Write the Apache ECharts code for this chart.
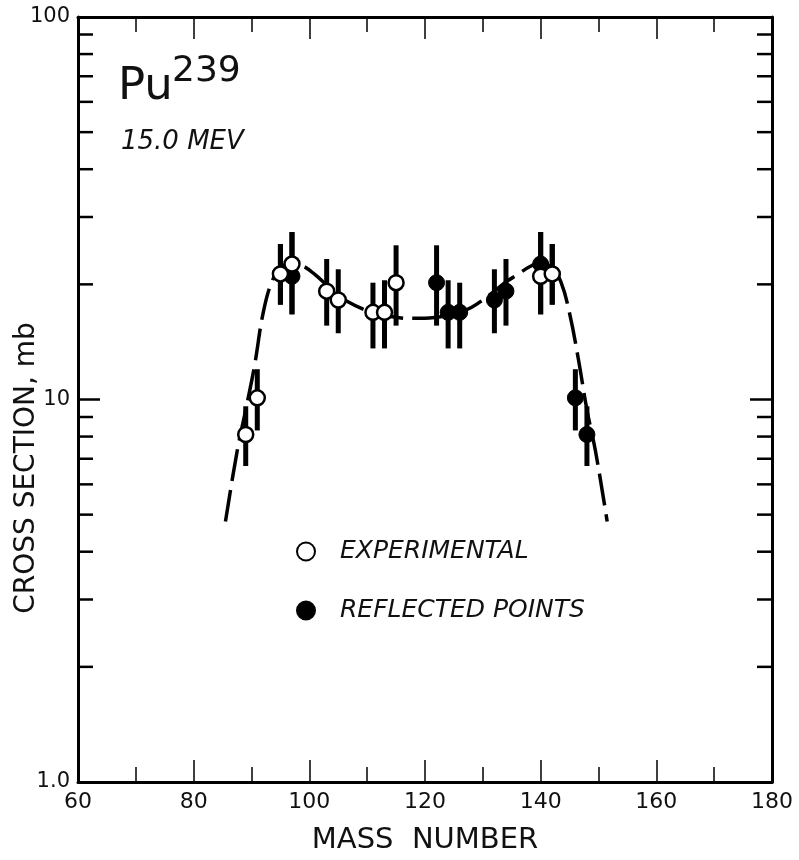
<!DOCTYPE html>
<html><head><meta charset="utf-8">
<script src="https://cdn.jsdelivr.net/npm/echarts@6/dist/echarts.min.js"></script>
<style>html,body{margin:0;padding:0;background:#fff}#c{width:799px;height:860px}</style>
</head><body><div id="c"></div>
<script>
// Experimental points (open circles)
const expMass  = [89, 91, 95, 97, 103, 105, 111, 113, 115, 140, 142];
const expValue = [8.1, 10.1, 21.3, 22.6, 19.2, 18.2, 16.9, 16.9, 20.2, 21.0, 21.3];
const expLow   = [6.7, 8.3, 17.7, 16.7, 15.6, 14.9, 13.6, 13.6, 15.6, 16.7, 17.7];
const expHigh  = [9.6, 12.0, 25.5, 27.4, 23.3, 21.9, 20.2, 20.5, 25.3, 27.4, 25.5];
// Reflected points (filled circles)
const refMass  = [148, 146, 142, 140, 134, 132, 126, 124, 122, 97, 95];
const refValue = [8.1, 10.1, 21.3, 22.6, 19.2, 18.2, 16.9, 16.9, 20.2, 21.0, 21.3];
const refLow   = [6.7, 8.3, 17.7, 16.7, 15.6, 14.9, 13.6, 13.6, 15.6, 16.7, 17.7];
const refHigh  = [9.6, 12.0, 25.5, 27.4, 23.3, 21.9, 20.2, 20.5, 25.3, 27.4, 25.5];
// Fitted curve
const curveMass  = [85.5, 87.5, 89, 90.5, 92, 93.5, 95, 97, 99, 101, 103, 105, 107, 109, 111, 113, 115, 117, 118.5,
                    120, 122, 124, 126, 128, 130, 132, 134, 136, 138, 140, 142, 143.5, 145, 146.5, 148, 149.5, 151.5];
const curveValue = [4.8, 7.3, 9.4, 12.2, 16.8, 20.3, 22.0, 22.8, 22.3, 21.2, 19.9, 18.7, 17.9, 17.3, 16.9, 16.6, 16.4, 16.3, 16.3,
                    16.3, 16.4, 16.6, 16.9, 17.4, 18.2, 19.2, 20.3, 21.2, 22.2, 22.8, 22.0, 20.3, 16.8, 12.8, 9.4, 7.3, 4.8];
// Axis ticks
const xTickValues = [60, 80, 100, 120, 140, 160, 180];
const yMinorTicks = [2, 3, 4, 5, 6, 7, 8, 9, 20, 30, 40, 50, 60, 70, 80, 90];

const FONT = 'DejaVu Sans';
const chart = echarts.init(document.getElementById('c'), null, {renderer: 'canvas'});

function zip3(a, b, c) { return a.map((v, i) => [v, b[i], c[i]]); }
const errRender = function (params, api) {
  const x = api.value(0);
  const p1 = api.coord([x, api.value(1)]);
  const p2 = api.coord([x, api.value(2)]);
  return {type: 'line', shape: {x1: p1[0], y1: p1[1], x2: p2[0], y2: p2[1]},
          style: {stroke: '#000', lineWidth: 5}};
};

const axisCommonX = {
  type: 'value', min: 60, max: 180, interval: 20,
  axisLine: {show: true, onZero: false, lineStyle: {color: '#000', width: 3}},
  axisTick: {show: true, inside: true, length: 22, lineStyle: {color: '#000', width: 1.5}},
  minorTick: {show: true, splitNumber: 2, length: 15, lineStyle: {color: '#000', width: 1.5}},
  splitLine: {show: false}, minorSplitLine: {show: false}
};
const axisCommonY = {
  type: 'log', logBase: 10, min: 1, max: 100,
  axisLine: {show: true, onZero: false, lineStyle: {color: '#000', width: 3}},
  axisTick: {show: true, inside: true, length: 22, lineStyle: {color: '#000', width: 2.5}},
  splitLine: {show: false}
};

chart.setOption({
  animation: false,
  backgroundColor: '#fff',
  grid: {left: 78, right: 27, top: 17, bottom: 75, containLabel: false},
  xAxis: [
    Object.assign({}, axisCommonX, {
      position: 'bottom',
      name: 'MASS  NUMBER', nameLocation: 'middle', nameGap: 44,
      nameTextStyle: {fontFamily: FONT, fontSize: 29, color: '#111'},
      axisLabel: {show: true, margin: 9, fontFamily: FONT, fontSize: 22, color: '#111',
        customValues: xTickValues}
    }),
    Object.assign({}, axisCommonX, {position: 'top', axisLabel: {show: false}})
  ],
  yAxis: [
    Object.assign({}, axisCommonY, {
      position: 'left',
      axisLabel: {show: true, margin: 8, fontFamily: FONT, fontSize: 21, color: '#111',
        formatter: v => (v === 1 ? '1.0' : String(v))}
    }),
    Object.assign({}, axisCommonY, {position: 'right', axisLabel: {show: false}})
  ],
  legend: {
    orient: 'vertical', left: 291, top: 534, itemWidth: 18, itemHeight: 18, itemGap: 34,
    icon: 'circle',
    data: ['EXPERIMENTAL', 'REFLECTED POINTS'],
    textStyle: {fontFamily: FONT, fontStyle: 'italic', fontSize: 25, color: '#111', padding: [0, 0, 0, 20]}
  },
  graphic: [
    {type: 'text', left: 118, top: 65, style: {text: 'Pu', fontFamily: FONT, fontSize: 45, fill: '#111'}},
    {type: 'text', left: 172, top: 54, style: {text: '239', fontFamily: FONT, fontSize: 36, fill: '#111'}},
    {type: 'text', left: 121, top: 129, style: {text: '15.0 MEV', fontFamily: FONT, fontStyle: 'italic', fontSize: 26, fill: '#111'}},
    {type: 'text', x: 27, y: 468, rotation: Math.PI / 2,
     style: {text: 'CROSS SECTION, mb', fontFamily: FONT, fontSize: 28, fill: '#111', align: 'center', verticalAlign: 'middle'}}
  ],
  series: [
    {
      type: 'custom', name: 'minorTicks', xAxisIndex: 0, yAxisIndex: 0, silent: true, clip: false, z: 1,
      data: yMinorTicks.map(v => [60, v]),
      renderItem: function (params, api) {
        const p = api.coord([60, api.value(1)]);
        const cs = params.coordSys;
        return {type: 'group', children: [
          {type: 'line', shape: {x1: cs.x, y1: p[1], x2: cs.x + 15, y2: p[1]}, style: {stroke: '#000', lineWidth: 2.5}},
          {type: 'line', shape: {x1: cs.x + cs.width - 15, y1: p[1], x2: cs.x + cs.width, y2: p[1]}, style: {stroke: '#000', lineWidth: 2.5}}
        ]};
      }
    },
    {
      type: 'line', name: 'curve', data: curveMass.map((m, i) => [m, curveValue[i]]),
      smooth: 0.4, showSymbol: false, symbol: 'none', z: 2,
      lineStyle: {color: '#000', width: 3.5, type: [32, 9]}
    },
    {type: 'custom', name: 'errExp', data: zip3(expMass, expLow, expHigh), renderItem: errRender, z: 3, silent: true},
    {type: 'custom', name: 'errRef', data: zip3(refMass, refLow, refHigh), renderItem: errRender, z: 3, silent: true},
    {
      type: 'scatter', name: 'REFLECTED POINTS', data: refMass.map((m, i) => [m, refValue[i]]),
      symbol: 'circle', symbolSize: 16, z: 4,
      itemStyle: {color: '#000', borderColor: '#000', borderWidth: 1, opacity: 1}
    },
    {
      type: 'scatter', name: 'EXPERIMENTAL', data: expMass.map((m, i) => [m, expValue[i]]),
      symbol: 'circle', symbolSize: 15, z: 5,
      itemStyle: {color: '#fff', borderColor: '#000', borderWidth: 2.5, opacity: 1}
    }
  ]
});
</script>
</body></html>
